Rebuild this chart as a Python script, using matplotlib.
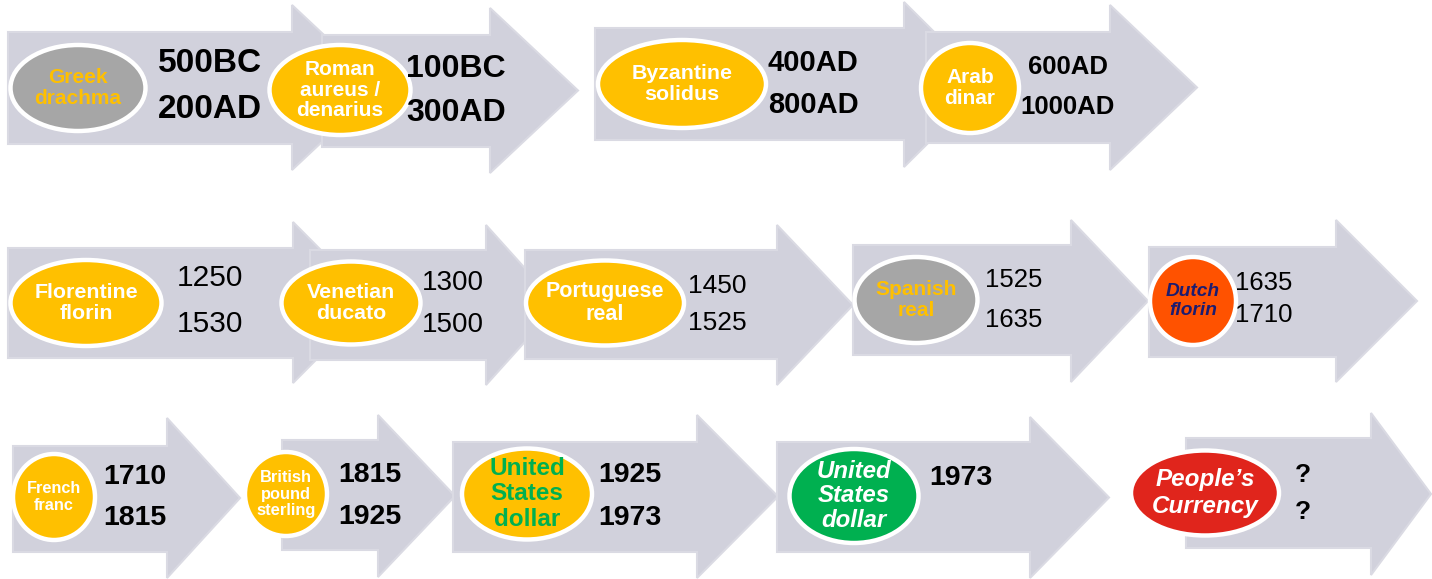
import matplotlib.pyplot as plt
from matplotlib.patches import Polygon, Ellipse

# currencies, in order of the arrows
currencies = ["Greek\ndrachma", "Roman\naureus /\ndenarius", "Byzantine\nsolidus", "Arab\ndinar",
              "Florentine\nflorin", "Venetian\nducato", "Portuguese\nreal", "Spanish\nreal", "Dutch\nflorin",
              "French\nfranc", "British\npound\nsterling", "United\nStates\ndollar", "United\nStates\ndollar",
              "People\u2019s\nCurrency"]
start_dates = ["500BC", "100BC", "400AD", "600AD",
               "1250", "1300", "1450", "1525", "1635",
               "1710", "1815", "1925", "1973", "?"]
end_dates = ["200AD", "300AD", "800AD", "1000AD",
             "1530", "1500", "1525", "1635", "1710",
             "1815", "1925", "1973", "", "?"]

# layout: arrow (body left, head x, body top, body bottom, head top, head bottom, tip x)
arrows = [
    (8, 292, 32, 144, 5, 170, 380),
    (322, 490, 35, 147, 8, 173, 578),
    (595, 904, 28, 140, 2, 167, 987),
    (926, 1110, 32, 143, 5, 170, 1197),
    (8, 293, 248, 358, 222, 383, 373),
    (310, 486, 250, 360, 225, 385, 558),
    (525, 777, 250, 359, 225, 385, 853),
    (853, 1071, 245, 355, 220, 382, 1148),
    (1149, 1336, 247, 357, 220, 382, 1417),
    (13, 167, 446, 552, 418, 578, 240),
    (282, 378, 440, 550, 415, 577, 455),
    (453, 697, 442, 552, 415, 578, 778),
    (777, 1030, 442, 552, 417, 578, 1109),
    (1186, 1371, 438, 548, 413, 575, 1431),
]
# ellipse (cx, cy, w, h)
ovals = [
    (78, 88, 139, 90), (340, 90, 145, 94), (682, 84, 172, 92), (970, 88, 102, 94),
    (86, 303, 155, 90), (351, 303, 143, 87), (605, 303, 162, 89), (916, 300, 127, 90), (1193, 301, 90, 92),
    (54, 497, 86, 90), (286, 494, 86, 88), (527, 494, 134, 95), (854, 496, 133, 98), (1205, 493, 152, 89),
]
YEL, GRY, ORG, GRN, RED, NAVY = "#ffc000", "#a6a6a6", "#ff5200", "#00b050", "#e0251c", "#1c1c70"
oval_fill = [GRY, YEL, YEL, YEL, YEL, YEL, YEL, GRY, ORG, YEL, YEL, YEL, GRN, RED]
# (text colour, style, size, line spacing)
oval_text = [(YEL, "normal", 15, 1.16), ("white", "normal", 15, 1.12), ("white", "normal", 15.4, 1.14),
             ("white", "normal", 15, 1.14), ("white", "normal", 15.4, 1.14), ("white", "normal", 15.4, 1.14),
             ("white", "normal", 15.5, 1.14), (YEL, "normal", 15, 1.14), (NAVY, "italic", 13.8, 1.1),
             ("white", "normal", 11.7, 1.12), ("white", "normal", 11.9, 1.1), (GRN, "normal", 17.5, 1.12),
             ("white", "italic", 17.3, 1.1), ("white", "italic", 17.5, 1.2)]
# date columns: (centre x, first y, second y, size, weight)
date_pos = [
    (210, 64, 109, 24, "bold"), (456, 69, 113, 23, "bold"), (813, 63, 105, 21, "bold"), (1068, 67, 107, 18.5, "bold"),
    (210, 278, 324, 21.5, "normal"), (453, 283, 325, 20, "normal"), (717, 286, 323, 19, "normal"),
    (1014, 280, 320, 18.5, "normal"), (1264, 283, 315, 18.5, "normal"),
    (135, 477, 518, 20.5, "bold"), (370, 475, 517, 20.5, "bold"), (630, 475, 518, 20.5, "bold"),
    (961, 478, 0, 20.5, "bold"), (1303, 475, 512, 19, "bold"),
]

plt.rcParams["font.family"] = ["Liberation Sans", "DejaVu Sans"]

fig = plt.figure(figsize=(14.32, 5.79), dpi=100)
ax = fig.add_axes([0, 0, 1, 1])
ax.set_xlim(0, 1432)
ax.set_ylim(579, 0)
ax.axis("off")

for bl, hx, bt, bb, ht, hb, tip in arrows:
    mid = (ht + hb) / 2
    pts = [(bl, bt), (hx, bt), (hx, ht), (tip, mid), (hx, hb), (hx, bb), (bl, bb)]
    ax.add_patch(Polygon(pts, closed=True, facecolor="#d1d1dc", edgecolor="#dadae3", lw=1.5, zorder=1))

for i, (cx, cy, w, h) in enumerate(ovals):
    ax.add_patch(Ellipse((cx, cy), w - 4, h - 4, facecolor=oval_fill[i], edgecolor="white", lw=3.2, zorder=2))
    col, style, size, ls = oval_text[i]
    ax.text(cx, cy, currencies[i], color=col, fontsize=size, fontweight="bold", fontstyle=style,
            ha="center", va="center", linespacing=ls, zorder=3)

for i, (x, y1, y2, size, weight) in enumerate(date_pos):
    ax.text(x, y1, start_dates[i], fontsize=size, fontweight=weight, color="black",
            ha="center", va="center", zorder=3)
    if end_dates[i]:
        ax.text(x, y2, end_dates[i], fontsize=size, fontweight=weight, color="black",
                ha="center", va="center", zorder=3)

fig.savefig("out.png", dpi=100, facecolor="white")
